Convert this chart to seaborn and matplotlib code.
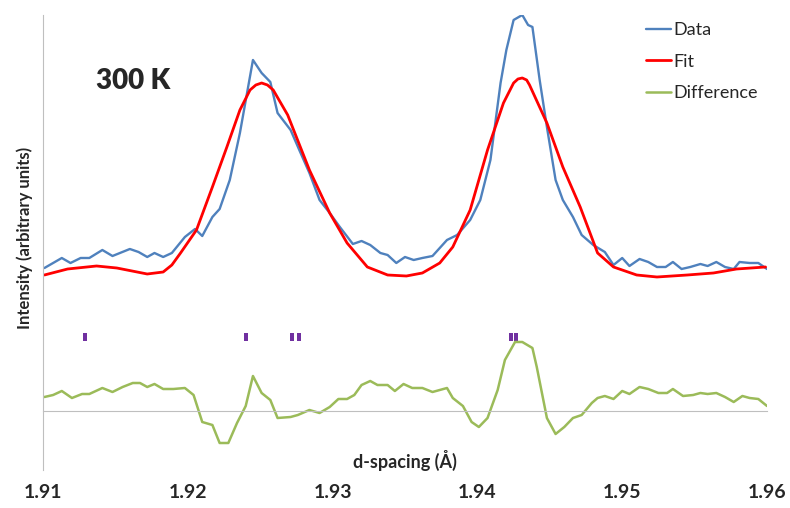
import matplotlib
matplotlib.use("Agg")
import matplotlib.pyplot as plt
import seaborn as sns

# d-spacing (Å) and intensity (arbitrary units)
data_d = [1.9101, 1.9113, 1.9119, 1.9126, 1.9132, 1.9141, 1.9148, 1.9160, 1.9166, 1.9172,
          1.9177, 1.9183, 1.9189, 1.9198, 1.9205, 1.9210, 1.9217, 1.9222, 1.9229, 1.9236,
          1.9245, 1.9251, 1.9257, 1.9262, 1.9271, 1.9277, 1.9284, 1.9291, 1.9298, 1.9305,
          1.9314, 1.9320, 1.9326, 1.9333, 1.9338, 1.9344, 1.9350, 1.9356, 1.9362, 1.9369,
          1.9379, 1.9386, 1.9395, 1.9402, 1.9409, 1.9416, 1.9420, 1.9425, 1.9431, 1.9435,
          1.9438, 1.9443, 1.9448, 1.9454, 1.9459, 1.9466, 1.9472, 1.9480, 1.9488, 1.9494,
          1.9500, 1.9505, 1.9512, 1.9518, 1.9524, 1.9530, 1.9535, 1.9541, 1.9547, 1.9554,
          1.9559, 1.9565, 1.9571, 1.9577, 1.9581, 1.9588, 1.9594, 1.9600]
data_int = [143, 153, 148, 153, 153, 161, 155, 162, 159, 154,
            158, 154, 158, 174, 182, 175, 194, 202, 231, 278,
            351, 338, 329, 298, 281, 261, 238, 211, 198, 184,
            167, 170, 166, 158, 156, 148, 154, 151, 153, 155,
            171, 176, 191, 211, 251, 328, 361, 391, 396, 386,
            384, 331, 284, 231, 211, 194, 176, 166, 159, 146,
            153, 145, 152, 149, 144, 144, 149, 142, 144, 147,
            145, 149, 144, 142, 149, 148, 148, 142]

fit_d = [1.9101, 1.9117, 1.9137, 1.9151, 1.9172, 1.9183, 1.9189, 1.9195, 1.9206, 1.9217,
         1.9227, 1.9236, 1.9243, 1.9247, 1.9251, 1.9255, 1.9259, 1.9269, 1.9284, 1.9298,
         1.9310, 1.9324, 1.9338, 1.9351, 1.9362, 1.9374, 1.9383, 1.9395, 1.9407, 1.9418,
         1.9425, 1.9428, 1.9431, 1.9434, 1.9436, 1.9448, 1.9459, 1.9471, 1.9483, 1.9494,
         1.9510, 1.9524, 1.9545, 1.9563, 1.9579, 1.9599]
fit_int = [136, 142, 145, 143, 137, 139, 146, 158, 181, 224,
           264, 301, 321, 326, 328, 326, 321, 296, 241, 198,
           168, 144, 136, 135, 138, 148, 164, 201, 261, 308,
           328, 332, 333, 331, 326, 288, 244, 204, 158, 144,
           136, 134, 136, 138, 142, 144]

diff_d = [1.9101, 1.9107, 1.9113, 1.9120, 1.9127, 1.9132, 1.9141, 1.9148, 1.9155, 1.9162,
          1.9167, 1.9172, 1.9177, 1.9183, 1.9190, 1.9198, 1.9204, 1.9210, 1.9217, 1.9222,
          1.9228, 1.9234, 1.9240, 1.9245, 1.9251, 1.9257, 1.9262, 1.9271, 1.9276, 1.9284,
          1.9291, 1.9298, 1.9304, 1.9310, 1.9315, 1.9320, 1.9326, 1.9331, 1.9338, 1.9343,
          1.9349, 1.9355, 1.9362, 1.9369, 1.9379, 1.9383, 1.9390, 1.9396, 1.9401, 1.9407,
          1.9414, 1.9419, 1.9426, 1.9431, 1.9438, 1.9441, 1.9448, 1.9454, 1.9460, 1.9466,
          1.9472, 1.9479, 1.9483, 1.9488, 1.9494, 1.9500, 1.9505, 1.9512, 1.9518, 1.9525,
          1.9531, 1.9535, 1.9542, 1.9549, 1.9554, 1.9559, 1.9565, 1.9571, 1.9577, 1.9583,
          1.9588, 1.9594, 1.9600]
diff_int = [14, 16, 20, 13, 17, 17, 23, 19, 24, 28,
            28, 24, 27, 22, 22, 23, 16, -11, -14, -32,
            -32, -12, 5, 35, 18, 11, -7, -6, -4, 1,
            -2, 4, 12, 12, 16, 26, 30, 26, 26, 20,
            27, 23, 23, 19, 23, 13, 5, -11, -16, -7,
            21, 51, 69, 69, 63, 44, -7, -23, -16, -7,
            -4, 8, 13, 15, 12, 20, 17, 24, 22, 18,
            18, 22, 15, 16, 18, 17, 18, 14, 9, 15,
            13, 12, 5]

# reflection positions (tick marks)
refl_d = [1.9129, 1.9240, 1.9272, 1.9277, 1.9423, 1.9427]
REFL_LEVEL = 74

tick_vals = [1.91, 1.92, 1.93, 1.94, 1.95, 1.96]
tick_labels = ["1.91", "1.92", "1.93", "1.94", "1.95", "1.96"]

sns.set_style("white")
plt.rcParams['font.family'] = ['Lato', 'DejaVu Sans']

fig = plt.figure(figsize=(7.9, 5.08), dpi=100)
ax = fig.add_axes([0.0544, 0.0748, 0.9165, 0.8957])

sns.lineplot(x=data_d, y=data_int, ax=ax, color='#4F81BD', linewidth=1.7, label='Data')
sns.lineplot(x=fit_d, y=fit_int, ax=ax, color='#FF0000', linewidth=2.0, label='Fit')
sns.lineplot(x=diff_d, y=diff_int, ax=ax, color='#9BBB59', linewidth=1.8, label='Difference')

# small upright bars for the reflection positions
bar_marker = [(-0.28, -0.5), (0.28, -0.5), (0.28, 0.5), (-0.28, 0.5)]
sns.scatterplot(x=refl_d, y=[REFL_LEVEL] * len(refl_d), ax=ax, color='#7030A0',
                marker=bar_marker, s=38, linewidth=0, legend=False)

ax.set_xlim(1.91, 1.96)
ax.set_ylim(-59, 396)

# zero line with small ticks, labels sit at the bottom of the plot
for side in ['top', 'right']:
    ax.spines[side].set_visible(False)
ax.spines['left'].set_color('#BFBFBF')
ax.spines['bottom'].set_color('#BFBFBF')
ax.spines['bottom'].set_position(('data', 0))
ax.set_yticks([])
ax.set_xticks(tick_vals)
ax.tick_params(axis='x', direction='out', length=4, color='#BFBFBF', labelbottom=False)

sec = ax.secondary_xaxis('bottom')
sec.spines['bottom'].set_visible(False)
sec.set_xticks(tick_vals, labels=tick_labels)
sec.tick_params(length=0, pad=10, labelsize=14)
for lbl in sec.get_xticklabels():
    lbl.set_fontweight('bold')

ax.set_xlabel('d-spacing (Å)', fontsize=13, fontweight='bold')
ax.xaxis.set_label_coords(0.5, 0.044)
ax.set_ylabel('Intensity (arbitrary units)', fontsize=12, fontweight='bold')
ax.yaxis.set_label_coords(-0.014, 0.51)

ax.text(0.073, 0.854, '300 K', transform=ax.transAxes, fontsize=20, fontweight='heavy',
        ha='left', va='center')

ax.legend(loc='upper left', bbox_to_anchor=(0.823, 1.0), borderaxespad=0, frameon=False,
          fontsize=13, handlelength=1.4, handletextpad=0.1, labelspacing=0.85)

fig.savefig('out.png', dpi=100)
